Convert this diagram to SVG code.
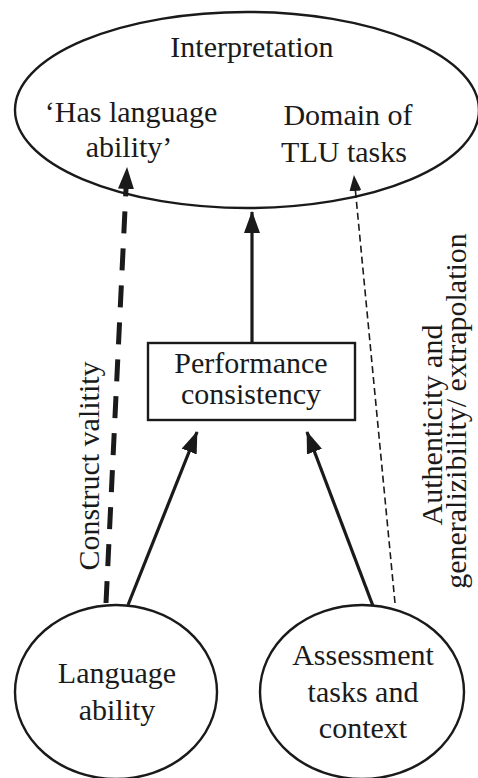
<svg xmlns="http://www.w3.org/2000/svg" width="478" height="778" viewBox="0 0 478 778">
  <style>
    .shape { fill: #ffffff; stroke: #1a1a1a; stroke-width: 2.4; }
    .lbl { font-family: "Liberation Serif", "Times New Roman", serif; font-size: 30px; fill: #1a1a1a; text-anchor: middle; }
    .solid { stroke: #1a1a1a; stroke-width: 3.2; fill: none; }
    .thickdash { stroke: #1a1a1a; stroke-width: 5; fill: none; stroke-dasharray: 22 15; }
    .thindash { stroke: #1a1a1a; stroke-width: 1.6; fill: none; stroke-dasharray: 7 4; }
  </style>
  <defs>
    <marker id="ah" markerUnits="userSpaceOnUse" markerWidth="22" markerHeight="16" refX="21" refY="8" orient="auto">
      <path d="M0,0 L22,8 L0,16 z" fill="#1a1a1a" stroke="none"/>
    </marker>
    <marker id="ahs" markerUnits="userSpaceOnUse" markerWidth="16" markerHeight="12" refX="15" refY="6" orient="auto">
      <path d="M0,0 L16,6 L0,12 z" fill="#1a1a1a" stroke="none"/>
    </marker>
  </defs>
  <rect width="478" height="778" fill="#ffffff"/>

  <g id="interpretation">
    <ellipse class="shape" cx="247" cy="110" rx="232" ry="98"/>
    <text class="lbl" x="252" y="57">Interpretation</text>
    <text class="lbl" x="131" y="122">‘Has language</text>
    <text class="lbl" x="129" y="157">ability’</text>
    <text class="lbl" x="348" y="125">Domain of</text>
    <text class="lbl" x="344" y="162">TLU tasks</text>
  </g>

  <g id="performance">
    <rect class="shape" x="148" y="343" width="207" height="77"/>
    <text class="lbl" x="251" y="373">Performance</text>
    <text class="lbl" x="251" y="404">consistency</text>
  </g>

  <g id="language-ability">
    <ellipse class="shape" cx="116" cy="692" rx="101" ry="87"/>
    <text class="lbl" x="117" y="683">Language</text>
    <text class="lbl" x="117" y="720">ability</text>
  </g>

  <g id="assessment">
    <ellipse class="shape" cx="362" cy="692" rx="102" ry="87"/>
    <text class="lbl" x="363" y="665">Assessment</text>
    <text class="lbl" x="363" y="702">tasks and</text>
    <text class="lbl" x="363" y="738">context</text>
  </g>

  <g id="connectors">
    <line class="thickdash" x1="106" y1="603" x2="127" y2="168" marker-end="url(#ah)"/>
    <line class="solid" x1="252" y1="343" x2="252" y2="212" marker-end="url(#ah)"/>
    <line class="solid" x1="128" y1="605" x2="197" y2="432" marker-end="url(#ah)"/>
    <line class="solid" x1="373" y1="606" x2="307" y2="432" marker-end="url(#ah)"/>
    <line class="thindash" x1="395" y1="603" x2="354" y2="176" marker-end="url(#ahs)"/>
    <text class="lbl" transform="translate(99,466) rotate(-90)">Construct valitity</text>
    <text class="lbl" transform="translate(442,425) rotate(-90)">Authenticity and</text>
    <text class="lbl" transform="translate(466,411) rotate(-90)">generalizibility/ extrapolation</text>
  </g>
</svg>
